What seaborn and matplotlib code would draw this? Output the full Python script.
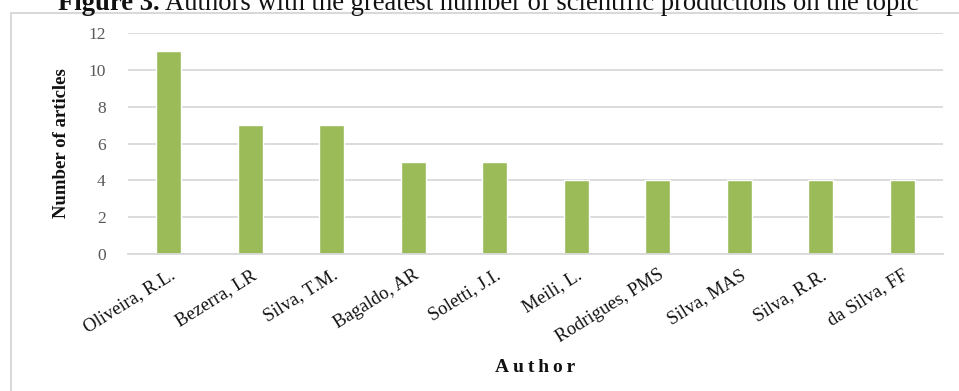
import matplotlib
matplotlib.use("Agg")
import matplotlib.pyplot as plt
from matplotlib.patches import Rectangle
import seaborn as sns
import pandas as pd

authors = ["Oliveira, R.L.", "Bezerra, LR", "Silva, T.M.", "Bagaldo, AR",
           "Soletti, J.I.", "Meili, L.", "Rodrigues, PMS", "Silva, MAS",
           "Silva, R.R.", "da Silva, FF"]
articles = [11, 7, 7, 5, 5, 4, 4, 4, 4, 4]
y_ticks = [0, 2, 4, 6, 8, 10, 12]

df = pd.DataFrame({"Author": authors, "Articles": articles})

sns.set_theme(style="white")
plt.rcParams["font.family"] = ["Liberation Serif", "DejaVu Serif"]

W, H = 959, 391
fig = plt.figure(figsize=(W / 100, H / 100), dpi=100)

# chart frame
fig.patches.append(Rectangle((11 / W, -0.05), 1.0, 1 - 13 / H + 0.05,
                             transform=fig.transFigure, fill=False,
                             edgecolor="#D9D9D9", linewidth=1.5, zorder=0))

ax = fig.add_axes([128 / W, 1 - 254 / H, (943 - 128) / W, (254 - 33) / H])
sns.barplot(data=df, x="Author", y="Articles", color="#9BBB59",
            width=0.31, saturation=1, ax=ax, zorder=3)

ax.set_ylim(0, 12)
ax.set_xlim(-0.5, len(authors) - 0.5)
ax.set_yticks(y_ticks)
ax.set_yticklabels([str(v) for v in y_ticks], fontsize=12.5, color="#595959")
ax.yaxis.grid(True, color="#D9D9D9", linewidth=1.3, zorder=0)
ax.set_axisbelow(True)
for s in ["top", "right", "left"]:
    ax.spines[s].set_visible(False)
ax.spines["bottom"].set_color("#D9D9D9")
ax.spines["bottom"].set_linewidth(1.3)
ax.spines["bottom"].set_zorder(4)

ax.tick_params(axis="y", length=0, pad=16)
ax.tick_params(axis="x", which="major", length=0, pad=9)
ax.set_xticks([i - 0.5 for i in range(len(authors) + 1)], minor=True)
ax.tick_params(axis="x", which="minor", length=5, width=1.3, color="#D9D9D9",
               direction="out")
ax.set_xticks(range(len(authors)))
ax.set_xticklabels(authors, rotation=32, ha="right", rotation_mode="anchor",
                   fontsize=13.5, color="#111111")

ax.set_xlabel("")
ax.set_ylabel("")
fig.text(535 / W, 1 - 367 / H, "\u2009".join("Author"), ha="center",
         va="center", fontsize=14, fontweight="bold", color="#111111")
fig.text(61 / W, 1 - 143 / H, "Number of articles", ha="center", va="center",
         rotation=90, fontsize=13.5, fontweight="bold", color="#111111")

# caption above the frame
t1 = fig.text(58 / W, 1 - 10 / H, "Figure 3.", ha="left", va="baseline",
              fontsize=19.2, fontweight="bold", color="#111111")
fig.canvas.draw()
bb = t1.get_window_extent()
fig.text((bb.x1 + 5) / W, 1 - 10 / H,
         "Authors with the greatest number of scientific productions on the topic",
         ha="left", va="baseline", fontsize=19.2, color="#111111")

fig.savefig("out.png", dpi=100)
